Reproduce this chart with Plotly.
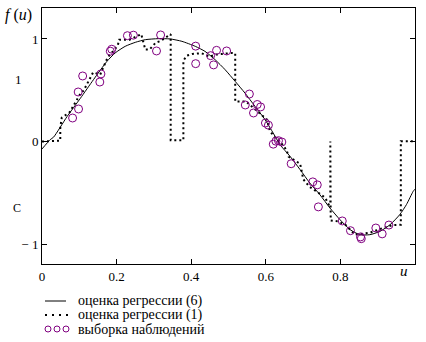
import plotly.graph_objects as go

# --- data ---
u_fit6 = [0.0, 0.022, 0.031, 0.067, 0.103, 0.138, 0.174, 0.196, 0.223, 0.250, 0.277, 0.312,
          0.344, 0.375, 0.411, 0.437, 0.464, 0.491, 0.518, 0.544, 0.571, 0.598, 0.625, 0.638,
          0.665, 0.692, 0.718, 0.745, 0.772, 0.799, 0.826, 0.852, 0.879, 0.906, 0.933, 0.959,
          0.977, 0.995, 1.0]
f_fit6 = [-0.073, 0.018, 0.042, 0.242, 0.422, 0.603, 0.781, 0.863, 0.928, 0.967, 0.993, 1.003,
          1.0, 0.977, 0.928, 0.879, 0.798, 0.700, 0.586, 0.473, 0.343, 0.213, 0.050, -0.031,
          -0.145, -0.275, -0.405, -0.519, -0.649, -0.763, -0.860, -0.909, -0.909, -0.877, -0.812, -0.714,
          -0.616, -0.487, -0.465]

u_fit1 = [0.0, 0.049, 0.049, 0.053, 0.074, 0.088, 0.103, 0.112, 0.125, 0.137, 0.156, 0.164,
          0.176, 0.203, 0.207, 0.235, 0.266, 0.277, 0.288, 0.305, 0.318, 0.345, 0.345, 0.379,
          0.379, 0.388, 0.403, 0.427, 0.435, 0.450, 0.464, 0.478, 0.509, 0.518, 0.518, 0.547,
          0.566, 0.590, 0.603, 0.611, 0.622, 0.645, 0.656, 0.661, 0.692, 0.697, 0.700, 0.717,
          0.727, 0.741, 0.759, 0.767, 0.773, 0.773, 0.774, 0.794, 0.815, 0.839, 0.879, 0.914,
          0.941, 0.962, 0.962, 1.0]
f_fit1 = [0.0, 0.008, 0.135, 0.232, 0.284, 0.376, 0.466, 0.499, 0.593, 0.674, 0.652, 0.717,
          0.820, 0.935, 0.993, 0.993, 1.047, 0.896, 0.896, 0.964, 0.980, 1.047, 0.013, 0.013,
          0.788, 0.837, 0.854, 0.861, 0.847, 0.827, 0.847, 0.854, 0.863, 0.861, 0.391, 0.391,
          0.330, 0.261, 0.213, 0.105, 0.047, -0.031, -0.087, -0.148, -0.217, -0.304, -0.366, -0.441,
          -0.463, -0.500, -0.548, -0.597, -0.646, 0.0, -0.770, -0.780, -0.817, -0.909, -0.890, -0.844,
          -0.815, -0.812, 0.003, 0.003]

u_obs = [0.082, 0.098, 0.097, 0.109, 0.155, 0.158, 0.183, 0.187, 0.229, 0.245, 0.318, 0.307,
         0.412, 0.412, 0.452, 0.460, 0.468, 0.495, 0.556, 0.545, 0.577, 0.586, 0.567, 0.599,
         0.607, 0.620, 0.627, 0.634, 0.643, 0.668, 0.726, 0.738, 0.741, 0.805, 0.827, 0.854,
         0.856, 0.895, 0.912, 0.930]
f_obs = [0.229, 0.317, 0.483, 0.639, 0.580, 0.659, 0.881, 0.900, 1.032, 1.037, 1.039, 0.883,
         0.930, 0.759, 0.837, 0.747, 0.889, 0.883, 0.463, 0.356, 0.361, 0.337, 0.278, 0.180,
         0.159, -0.026, 0.003, 0.008, -0.005, -0.217, -0.394, -0.423, -0.638, -0.775, -0.870, -0.931,
         -0.948, -0.844, -0.901, -0.815]

x_tick_vals = [0, 0.2, 0.4, 0.6, 0.8]
x_tick_text = ["0", "0.2", "0.4", "0.6", "0.8"]
y_tick_vals = [-1, 0, 1]
y_tick_text = ["\u2212 1", "0", "1"]
legend_labels = ["оценка регрессии (6)", "оценка регрессии (1)", "выборка наблюдений"]

SERIF = "Liberation Serif"
PURPLE = "#800080"

fig = go.Figure()
fig.add_trace(go.Scatter(x=u_fit6, y=f_fit6, mode="lines", line=dict(color="black", width=1, shape="spline", smoothing=0.6),
                         showlegend=False, hoverinfo="skip"))
fig.add_trace(go.Scatter(x=u_fit1, y=f_fit1, mode="lines", line=dict(color="black", width=2, dash="2px,3px"),
                         showlegend=False, hoverinfo="skip"))
fig.add_trace(go.Scatter(x=u_obs, y=f_obs, mode="markers",
                         marker=dict(symbol="circle-open", size=8, color=PURPLE, line=dict(width=1, color=PURPLE)),
                         showlegend=False, hoverinfo="skip"))

axis_common = dict(showline=True, linecolor="black", linewidth=1, mirror="allticks", ticks="inside",
                   ticklen=5, tickcolor="black", tickwidth=1, showgrid=False, zeroline=False,
                   tickfont=dict(family=SERIF, size=13, color="black"))
fig.update_xaxes(range=[0, 1], tickvals=x_tick_vals, ticktext=x_tick_text, **axis_common)
fig.update_yaxes(range=[-1.195, 1.302], tickvals=y_tick_vals, ticktext=y_tick_text, **axis_common)

# plot area: x 42..415, y 8..264
W, L, R, T, B = 426, 42, 11, 8, 78
PW, PH = 426 - L - R, 342 - T - B

def px(xp):
    return (xp - L) / PW

def py(yp):
    return (342 - B - yp) / PH

ann = []
ann.append(dict(text="<i>f</i> (<i>u</i>)", x=px(3), y=py(15), xref="paper", yref="paper",
                xanchor="left", yanchor="middle", showarrow=False, font=dict(family=SERIF, size=16, color="black")))
ann.append(dict(text="<i>u</i>", x=px(404), y=py(271), xref="paper", yref="paper",
                xanchor="center", yanchor="middle", showarrow=False, font=dict(family=SERIF, size=15, color="black")))
ann.append(dict(text="1", x=px(18), y=py(79), xref="paper", yref="paper",
                xanchor="center", yanchor="middle", showarrow=False, font=dict(family=SERIF, size=13, color="black")))
ann.append(dict(text="C", x=px(17), y=py(208), xref="paper", yref="paper",
                xanchor="center", yanchor="middle", showarrow=False, font=dict(family=SERIF, size=12, color="black")))

leg_y = [301, 315, 329]
for lab, yy in zip(legend_labels, leg_y):
    ann.append(dict(text=lab, x=px(76), y=py(yy), xref="paper", yref="paper", xanchor="left", yanchor="middle",
                    showarrow=False, font=dict(family=SERIF, size=14, color="black")))

shapes = []
shapes.append(dict(type="line", xref="paper", yref="paper", x0=px(45), x1=px(66), y0=py(301), y1=py(301),
                   line=dict(color="black", width=1)))
shapes.append(dict(type="line", xref="paper", yref="paper", x0=px(45), x1=px(68), y0=py(315), y1=py(315),
                   line=dict(color="black", width=2, dash="2px,5px")))
for cx in [48, 57, 66]:
    shapes.append(dict(type="circle", xref="paper", yref="paper", x0=px(cx - 3), x1=px(cx + 3),
                       y0=py(329 + 3), y1=py(329 - 3), line=dict(color=PURPLE, width=1)))

fig.update_layout(width=426, height=342, margin=dict(l=L, r=R, t=T, b=B, autoexpand=False),
                  plot_bgcolor="white", paper_bgcolor="white", annotations=ann, shapes=shapes, showlegend=False,
                  font=dict(family=SERIF, color="black"))

fig.write_html("out.html", config={"displayModeBar": False},
               post_script="document.body.style.margin='0';document.body.style.padding='0';")
